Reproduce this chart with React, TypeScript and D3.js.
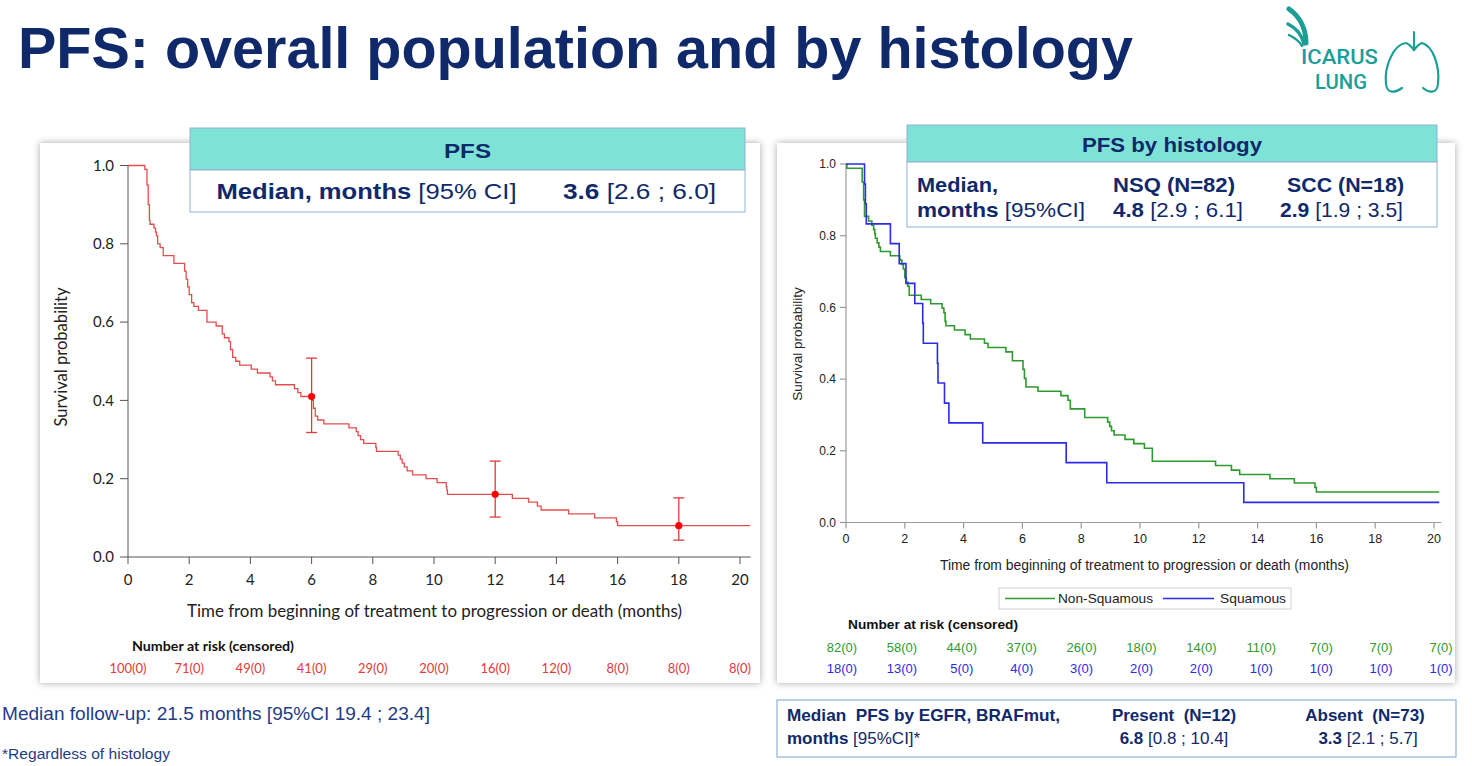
import React from 'react';
import * as d3 from 'd3';

const NAVY = '#10296a';
const TEAL = '#7fe2d6';
const BORDER = '#8fb2d6';
const RED = '#e23a3a';
const GREEN = '#2e9b2e';
const BLUE = '#2b2be8';

// ---- Overall PFS (left) ----
const overallTimes = [0, 0.55, 0.62, 0.66, 0.7, 0.72, 0.85, 0.9, 0.93, 0.97, 1.05, 1.15, 1.5, 1.85, 1.9, 1.95, 2.0, 2.08, 2.15, 2.3, 2.58, 2.88, 3.08, 3.15, 3.3, 3.35, 3.42, 3.52, 3.65, 4.03, 4.23, 4.64, 4.72, 4.82, 5.44, 5.55, 5.65, 6.02, 6.06, 6.12, 6.2, 6.4, 7.22, 7.46, 7.52, 7.6, 7.7, 8.1, 8.12, 8.83, 8.9, 8.96, 9.03, 9.12, 9.3, 9.74, 10.1, 10.4, 10.42, 10.44, 12.56, 13.09, 13.38, 13.5, 14.4, 15.25, 15.96, 16.0];
const overallSurv = [1.0, 0.99, 0.95, 0.9, 0.86, 0.85, 0.84, 0.83, 0.82, 0.8, 0.79, 0.77, 0.75, 0.73, 0.71, 0.69, 0.67, 0.65, 0.64, 0.63, 0.6, 0.59, 0.57, 0.56, 0.55, 0.53, 0.51, 0.5, 0.49, 0.48, 0.47, 0.46, 0.45, 0.44, 0.43, 0.42, 0.41, 0.4, 0.38, 0.36, 0.35, 0.34, 0.33, 0.32, 0.31, 0.3, 0.29, 0.28, 0.27, 0.26, 0.25, 0.24, 0.23, 0.22, 0.21, 0.2, 0.19, 0.18, 0.17, 0.16, 0.15, 0.14, 0.13, 0.12, 0.11, 0.1, 0.09, 0.08];
const overallEnd = 20.33;

const ciTimes = [6, 12, 18];
const ciEst = [0.41, 0.16, 0.08];
const ciLow = [0.318, 0.102, 0.043];
const ciHigh = [0.508, 0.245, 0.151];

const xTickValues = [0, 2, 4, 6, 8, 10, 12, 14, 16, 18, 20];
const yTickValues = [0, 0.2, 0.4, 0.6, 0.8, 1.0];
const overallRisk = ['100(0)', '71(0)', '49(0)', '41(0)', '29(0)', '20(0)', '16(0)', '12(0)', '8(0)', '8(0)', '8(0)'];

// ---- By histology (right) ----
const nsqTimes = [0, 0.03, 0.55, 0.6, 0.63, 0.77, 0.88, 0.94, 0.98, 1.0, 1.06, 1.12, 1.17, 1.51, 1.83, 1.9, 1.95, 2.0, 2.05, 2.1, 2.15, 2.56, 2.88, 3.27, 3.33, 3.37, 3.4, 3.69, 4.05, 4.23, 4.71, 4.83, 5.44, 5.66, 6.02, 6.07, 6.12, 6.53, 7.31, 7.55, 7.63, 8.12, 8.9, 8.97, 9.03, 9.12, 9.49, 9.79, 10.15, 10.42, 12.57, 13.11, 13.39, 14.42, 15.25, 15.95, 16.0];
const nsqSurv = [1.0, 0.988, 0.95, 0.9, 0.854, 0.841, 0.829, 0.817, 0.805, 0.793, 0.78, 0.768, 0.756, 0.744, 0.732, 0.72, 0.707, 0.683, 0.671, 0.659, 0.634, 0.622, 0.61, 0.598, 0.585, 0.561, 0.549, 0.537, 0.524, 0.512, 0.5, 0.488, 0.476, 0.451, 0.427, 0.402, 0.378, 0.366, 0.354, 0.341, 0.317, 0.293, 0.28, 0.268, 0.256, 0.244, 0.232, 0.22, 0.207, 0.171, 0.159, 0.146, 0.134, 0.122, 0.11, 0.098, 0.085];
const sqTimes = [0, 0.63, 0.66, 0.69, 1.51, 1.81, 2.04, 2.34, 2.61, 2.63, 3.11, 3.13, 3.35, 3.5, 4.65, 7.49, 8.87, 13.53];
const sqSurv = [1.0, 0.944, 0.889, 0.833, 0.778, 0.722, 0.667, 0.611, 0.556, 0.5, 0.444, 0.389, 0.333, 0.278, 0.222, 0.167, 0.111, 0.056];
const histEnd = 20.18;
const nsqRisk = ['82(0)', '58(0)', '44(0)', '37(0)', '26(0)', '18(0)', '14(0)', '11(0)', '7(0)', '7(0)', '7(0)'];
const sqRisk = ['18(0)', '13(0)', '5(0)', '4(0)', '3(0)', '2(0)', '2(0)', '1(0)', '1(0)', '1(0)', '1(0)'];

function stepPoints(times: number[], surv: number[], end: number): [number, number][] {
  const pts: [number, number][] = times.map((t, i) => [t, surv[i]]);
  pts.push([end, surv[surv.length - 1]]);
  return pts;
}

const ARIAL = 'Arial, "Liberation Sans", sans-serif';
const CAL = 'Lato, "Open Sans", sans-serif';
const PRE: React.CSSProperties = { whiteSpace: 'pre' };

export default function App() {
  const xL = d3.scaleLinear().domain([0, 20]).range([128, 740]);
  const yL = d3.scaleLinear().domain([0, 1]).range([557, 165.5]);
  const lineL = d3.line<[number, number]>().x(d => xL(d[0])).y(d => yL(d[1])).curve(d3.curveStepAfter);
  const overallPath = lineL(stepPoints(overallTimes, overallSurv, overallEnd)) || '';

  const xR = d3.scaleLinear().domain([0, 20]).range([846, 1434]);
  const yR = d3.scaleLinear().domain([0, 1]).range([522.5, 164]);
  const lineR = d3.line<[number, number]>().x(d => xR(d[0])).y(d => yR(d[1])).curve(d3.curveStepAfter);
  const nsqPath = lineR(stepPoints(nsqTimes, nsqSurv, histEnd)) || '';
  const sqPath = lineR(stepPoints(sqTimes, sqSurv, histEnd)) || '';
  const riskR = d3.scaleLinear().domain([0, 20]).range([842, 1441]);

  return (
    <svg width={1472} height={766} style={{ position: 'absolute', left: 0, top: 0, background: '#fff' }}>
      <defs>
        <filter id="shadow" x="-5%" y="-5%" width="110%" height="110%">
          <feDropShadow dx="0" dy="0" stdDeviation="3.5" floodColor="#000" floodOpacity="0.35" />
        </filter>
      </defs>
      <rect x={0} y={0} width={1472} height={766} fill="#fff" />

      {/* Title */}
      <text x={18} y={68} fontFamily={ARIAL} fontWeight="bold" fontSize={57.5} fill={NAVY}>
        PFS: overall population and by histology
      </text>

      {/* Logo */}
      <g fill="none" stroke="#1b9e96" strokeLinecap="round">
        <path d="M1289,9 C1299,16 1306,28 1306,43" strokeWidth={5} />
        <path d="M1288,24 C1296,28 1302,35 1304,44" strokeWidth={3.5} />
        <path d="M1289,35 C1295,38 1300,42 1302,46" strokeWidth={2.5} />
        <path d="M1414,32 L1414,50" strokeWidth={2} />
        <path d="M1414,50 C1411,46 1409,44 1406,43 C1394,44 1384,66 1386,84 C1387,94 1395,93 1402,88" strokeWidth={2.2} />
        <path d="M1414,50 C1417,46 1419,44 1422,43 C1433,46 1440,66 1438,84 C1437,94 1429,93 1423,88" strokeWidth={2.2} />
      </g>
      <text x={1301} y={64} fontFamily="Roboto, sans-serif" fontWeight={500} fontSize={21} fill="#1b9e96" textLength={77} lengthAdjust="spacingAndGlyphs">ICARUS</text>
      <text x={1315} y={89} fontFamily="Roboto, sans-serif" fontWeight={500} fontSize={21} fill="#1b9e96" textLength={52} lengthAdjust="spacingAndGlyphs">LUNG</text>

      {/* Left card */}
      <rect x={40} y={143} width={720} height={540} fill="#fff" filter="url(#shadow)" />
      <g stroke="#555" strokeWidth={1} fill="none">
        <line x1={128} y1={yL(0)} x2={128} y2={yL(1)} />
        <line x1={128} y1={yL(0)} x2={xL(20.35)} y2={yL(0)} />
        {yTickValues.map(v => (
          <line key={'ylt' + v} x1={120} x2={128} y1={yL(v)} y2={yL(v)} />
        ))}
        {xTickValues.map(v => (
          <line key={'xlt' + v} x1={xL(v)} x2={xL(v)} y1={yL(0)} y2={yL(0) + 7} />
        ))}
      </g>
      {yTickValues.map(v => (
        <text key={'yl' + v} x={114} y={yL(v)} dy="0.35em" textAnchor="end" fontFamily={CAL} fontSize={15} fill="#222">
          {v.toFixed(1)}
        </text>
      ))}
      {xTickValues.map(v => (
        <text key={'xl' + v} x={xL(v)} y={580} dy="0.35em" textAnchor="middle" fontFamily={CAL} fontSize={15} fill="#222">
          {v}
        </text>
      ))}
      <text transform="translate(61,357) rotate(-90)" textAnchor="middle" dy="0.35em" fontFamily={CAL} fontSize={16.5} fill="#222" textLength={139} lengthAdjust="spacingAndGlyphs">
        Survival probability
      </text>
      <text x={187} y={611} dy="0.35em" fontFamily={CAL} fontSize={16.5} fill="#222" textLength={495} lengthAdjust="spacingAndGlyphs">
        Time from beginning of treatment to progression or death (months)
      </text>
      <path d={overallPath} fill="none" stroke={RED} strokeWidth={1.3} strokeOpacity={0.9} />
      {ciTimes.map((t, i) => (
        <g key={'ci' + i} stroke={RED} strokeWidth={1.3}>
          <line x1={xL(t)} x2={xL(t)} y1={yL(ciLow[i])} y2={yL(ciHigh[i])} />
          <line x1={xL(t) - 5.5} x2={xL(t) + 5.5} y1={yL(ciLow[i])} y2={yL(ciLow[i])} />
          <line x1={xL(t) - 5.5} x2={xL(t) + 5.5} y1={yL(ciHigh[i])} y2={yL(ciHigh[i])} />
          <circle cx={xL(t)} cy={yL(ciEst[i])} r={3.6} fill="#ff0000" stroke="none" />
        </g>
      ))}
      <text x={132} y={646} dy="0.35em" fontFamily={CAL} fontWeight="bold" fontSize={13.5} fill="#111" textLength={162} lengthAdjust="spacingAndGlyphs">
        Number at risk (censored)
      </text>
      {overallRisk.map((r, i) => (
        <text key={'or' + i} x={xL(xTickValues[i])} y={668} dy="0.35em" textAnchor="middle" fontFamily={CAL} fontSize={13} fill={RED}>
          {r}
        </text>
      ))}

      {/* PFS box */}
      <rect x={190} y={128} width={555} height={42} fill={TEAL} stroke={BORDER} strokeWidth={1} />
      <rect x={190} y={170} width={555} height={42} fill="#fff" stroke={BORDER} strokeWidth={1} />
      <text x={444} y={151} dy="0.35em" fontFamily={ARIAL} fontWeight="bold" fontSize={21} fill={NAVY} textLength={47} lengthAdjust="spacingAndGlyphs">PFS</text>
      <text x={216.5} y={191.5} dy="0.35em" fontFamily={ARIAL} fontSize={22} fill={NAVY} textLength={300} lengthAdjust="spacingAndGlyphs">
        <tspan fontWeight="bold">Median, months</tspan> [95% CI]
      </text>
      <text x={563} y={191.5} dy="0.35em" fontFamily={ARIAL} fontSize={22} fill={NAVY} textLength={153} lengthAdjust="spacingAndGlyphs">
        <tspan fontWeight="bold">3.6</tspan> [2.6 ; 6.0]
      </text>

      {/* Right card */}
      <rect x={777} y={143} width={678} height={540} fill="#fff" filter="url(#shadow)" />
      <g stroke="#9a9a9a" strokeWidth={1.2} fill="none">
        <line x1={846} y1={yR(0)} x2={846} y2={yR(1)} />
        <line x1={846} y1={yR(0)} x2={xR(20.25)} y2={yR(0)} />
        {yTickValues.map(v => (
          <line key={'yrt' + v} x1={840} x2={846} y1={yR(v)} y2={yR(v)} />
        ))}
        {xTickValues.map(v => (
          <line key={'xrt' + v} x1={xR(v)} x2={xR(v)} y1={yR(0)} y2={yR(0) + 6} />
        ))}
      </g>
      {yTickValues.map(v => (
        <text key={'yr' + v} x={836} y={yR(v)} dy="0.35em" textAnchor="end" fontFamily={ARIAL} fontSize={12} fill="#222">
          {v.toFixed(1)}
        </text>
      ))}
      {xTickValues.map(v => (
        <text key={'xr' + v} x={xR(v)} y={539} dy="0.35em" textAnchor="middle" fontFamily={ARIAL} fontSize={12.5} fill="#222">
          {v}
        </text>
      ))}
      <text transform="translate(797,344) rotate(-90)" textAnchor="middle" dy="0.35em" fontFamily={ARIAL} fontSize={13.5} fill="#222">
        Survival probability
      </text>
      <text x={940} y={565} dy="0.35em" fontFamily={ARIAL} fontSize={14} fill="#222" textLength={409} lengthAdjust="spacingAndGlyphs">
        Time from beginning of treatment to progression or death (months)
      </text>
      <path d={nsqPath} fill="none" stroke={GREEN} strokeWidth={1.6} />
      <path d={sqPath} fill="none" stroke={BLUE} strokeWidth={1.6} />

      {/* Legend */}
      <rect x={999} y={588} width={292} height={21} fill="#fff" stroke="#d0d0d0" strokeWidth={1} />
      <line x1={1005} x2={1055} y1={598.5} y2={598.5} stroke={GREEN} strokeWidth={1.5} />
      <text x={1058} y={598.5} dy="0.35em" fontFamily={ARIAL} fontSize={13.5} fill="#222" textLength={95} lengthAdjust="spacingAndGlyphs">Non-Squamous</text>
      <line x1={1163} x2={1214} y1={598.5} y2={598.5} stroke={BLUE} strokeWidth={1.5} />
      <text x={1220} y={598.5} dy="0.35em" fontFamily={ARIAL} fontSize={13.5} fill="#222" textLength={66} lengthAdjust="spacingAndGlyphs">Squamous</text>

      <text x={848} y={624} dy="0.35em" fontFamily={ARIAL} fontWeight="bold" fontSize={13.5} fill="#111" textLength={170} lengthAdjust="spacingAndGlyphs">Number at risk (censored)</text>
      {nsqRisk.map((r, i) => (
        <text key={'nr' + i} x={riskR(xTickValues[i])} y={647} dy="0.35em" textAnchor="middle" fontFamily={ARIAL} fontSize={13} fill={GREEN}>{r}</text>
      ))}
      {sqRisk.map((r, i) => (
        <text key={'sr' + i} x={riskR(xTickValues[i])} y={668} dy="0.35em" textAnchor="middle" fontFamily={ARIAL} fontSize={13} fill={BLUE}>{r}</text>
      ))}

      {/* PFS by histology box */}
      <rect x={907} y={125} width={530} height={37} fill={TEAL} stroke={BORDER} strokeWidth={1} />
      <rect x={907} y={162} width={530} height={65} fill="#fff" stroke={BORDER} strokeWidth={1} />
      <text x={1082} y={145} dy="0.35em" fontFamily={ARIAL} fontWeight="bold" fontSize={21} fill={NAVY} textLength={180} lengthAdjust="spacingAndGlyphs">PFS by histology</text>
      <text x={917} y={185} dy="0.35em" fontFamily={ARIAL} fontWeight="bold" fontSize={21} fill={NAVY} textLength={81} lengthAdjust="spacingAndGlyphs">Median,</text>
      <text x={917} y={209.5} dy="0.35em" fontFamily={ARIAL} fontSize={21} fill={NAVY} textLength={168} lengthAdjust="spacingAndGlyphs">
        <tspan fontWeight="bold">months</tspan> [95%CI]
      </text>
      <text x={1113} y={185} dy="0.35em" fontFamily={ARIAL} fontWeight="bold" fontSize={21} fill={NAVY} textLength={122} lengthAdjust="spacingAndGlyphs">NSQ (N=82)</text>
      <text x={1113} y={209.5} dy="0.35em" fontFamily={ARIAL} fontSize={21} fill={NAVY} textLength={130} lengthAdjust="spacingAndGlyphs">
        <tspan fontWeight="bold">4.8</tspan> [2.9 ; 6.1]
      </text>
      <text x={1287} y={185} dy="0.35em" fontFamily={ARIAL} fontWeight="bold" fontSize={21} fill={NAVY} textLength={117} lengthAdjust="spacingAndGlyphs">SCC (N=18)</text>
      <text x={1280} y={209.5} dy="0.35em" fontFamily={ARIAL} fontSize={21} fill={NAVY} textLength={123} lengthAdjust="spacingAndGlyphs">
        <tspan fontWeight="bold">2.9</tspan> [1.9 ; 3.5]
      </text>

      {/* Bottom notes */}
      <text x={2} y={714} dy="0.35em" fontFamily={ARIAL} fontSize={17.5} fill="#1f3c85" textLength={428} lengthAdjust="spacingAndGlyphs">
        Median follow-up: 21.5 months [95%CI 19.4 ; 23.4]
      </text>
      <text x={2} y={754} dy="0.35em" fontFamily={ARIAL} fontSize={14} fill="#1f3c85" textLength={168} lengthAdjust="spacingAndGlyphs">*Regardless of histology</text>

      <rect x={777} y={700} width={679} height={57} fill="#fff" stroke={BORDER} strokeWidth={1.2} />
      <text x={787} y={715} dy="0.35em" fontFamily={ARIAL} fontWeight="bold" fontSize={17} fill={NAVY} style={PRE} textLength={273} lengthAdjust="spacingAndGlyphs">{'Median  PFS by EGFR, BRAFmut,'}</text>
      <text x={787} y={738} dy="0.35em" fontFamily={ARIAL} fontSize={17} fill={NAVY}>
        <tspan fontWeight="bold">months</tspan> [95%CI]*
      </text>
      <text x={1174} y={715} dy="0.35em" textAnchor="middle" fontFamily={ARIAL} fontWeight="bold" fontSize={17} fill={NAVY} style={PRE}>{'Present  (N=12)'}</text>
      <text x={1174} y={738} dy="0.35em" textAnchor="middle" fontFamily={ARIAL} fontSize={17} fill={NAVY}>
        <tspan fontWeight="bold">6.8</tspan> [0.8 ; 10.4]
      </text>
      <text x={1365} y={715} dy="0.35em" textAnchor="middle" fontFamily={ARIAL} fontWeight="bold" fontSize={17} fill={NAVY} style={PRE}>{'Absent  (N=73)'}</text>
      <text x={1368} y={738} dy="0.35em" textAnchor="middle" fontFamily={ARIAL} fontSize={17} fill={NAVY}>
        <tspan fontWeight="bold">3.3</tspan> [2.1 ; 5.7]
      </text>
    </svg>
  );
}
